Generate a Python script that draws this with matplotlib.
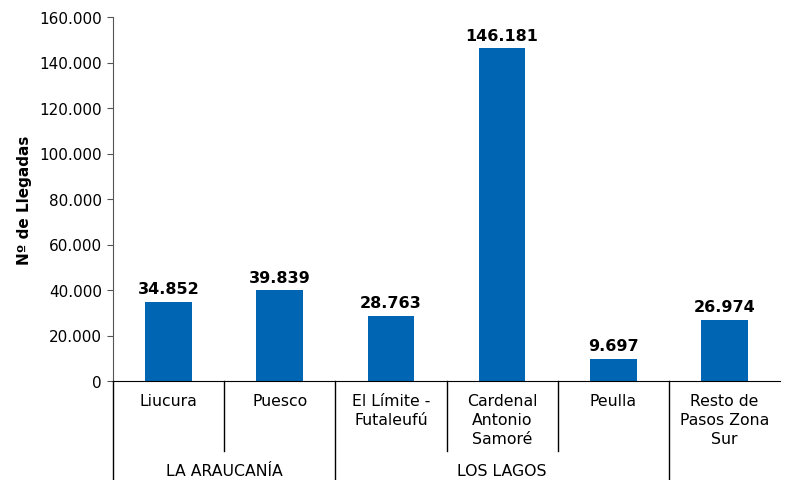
import matplotlib.pyplot as plt
from matplotlib.ticker import FuncFormatter

pasos = ["Liucura", "Puesco", "El Límite -\nFutaleufú", "Cardenal\nAntonio\nSamoré",
         "Peulla", "Resto de\nPasos Zona\nSur"]
llegadas = [34852, 39839, 28763, 146181, 9697, 26974]
regiones = ["LA ARAUCANÍA", "LOS LAGOS", ""]
region_span = [(0, 2), (2, 5), (5, 6)]

def miles(v, pos=None):
    return "{:,.0f}".format(v).replace(",", ".")

plt.rcParams['font.family'] = ['DejaVu Sans']

fig = plt.figure(figsize=(7.87, 4.81), dpi=100)
ax = fig.add_axes([113 / 787, 99 / 481, 667 / 787, 364 / 481])

x = list(range(len(pasos)))
ax.bar(x, llegadas, width=0.42, color="#0066b3", zorder=2)
for xi, v in zip(x, llegadas):
    ax.annotate(miles(v), (xi, v), xytext=(0, 4), textcoords="offset points",
                ha="center", va="bottom", fontsize=11.5, fontweight="bold")

ax.set_xlim(-0.5, len(pasos) - 0.5)
ax.set_ylim(0, 160000)
ax.set_yticks(range(0, 160001, 20000))
ax.yaxis.set_major_formatter(FuncFormatter(miles))
ax.tick_params(axis="y", labelsize=11, length=4, color="#555555", pad=4)
ax.set_xticks([])
for s in ["top", "right"]:
    ax.spines[s].set_visible(False)
ax.spines["left"].set_color("#555555")
ax.spines["bottom"].set_color("black")
ax.set_ylabel("Nº de Llegadas", fontsize=11, fontweight="bold", labelpad=5)

tr = ax.get_xaxis_transform()
for xi, name in zip(x, pasos):
    ax.text(xi, -0.033, name, transform=tr, ha="center", va="top",
            fontsize=11.3, linespacing=1.35)

# separadores
short_y = -70 / 364
long_y = -99 / 364
ax.plot([-0.5, -0.5], [0, long_y], transform=tr, color="black", lw=1, clip_on=False)
for (a, b), reg in zip(region_span, regiones):
    for k in range(a + 1, b):
        ax.plot([k - 0.5, k - 0.5], [0, short_y], transform=tr, color="black",
                lw=1, clip_on=False)
    if b < len(pasos):
        ax.plot([b - 0.5, b - 0.5], [0, long_y], transform=tr, color="black",
                lw=1, clip_on=False)
    if reg:
        ax.text((a + b - 1) / 2, -90 / 364, reg, transform=tr, ha="center",
                va="center", fontsize=11.3)

fig.savefig("out.png", dpi=100)
